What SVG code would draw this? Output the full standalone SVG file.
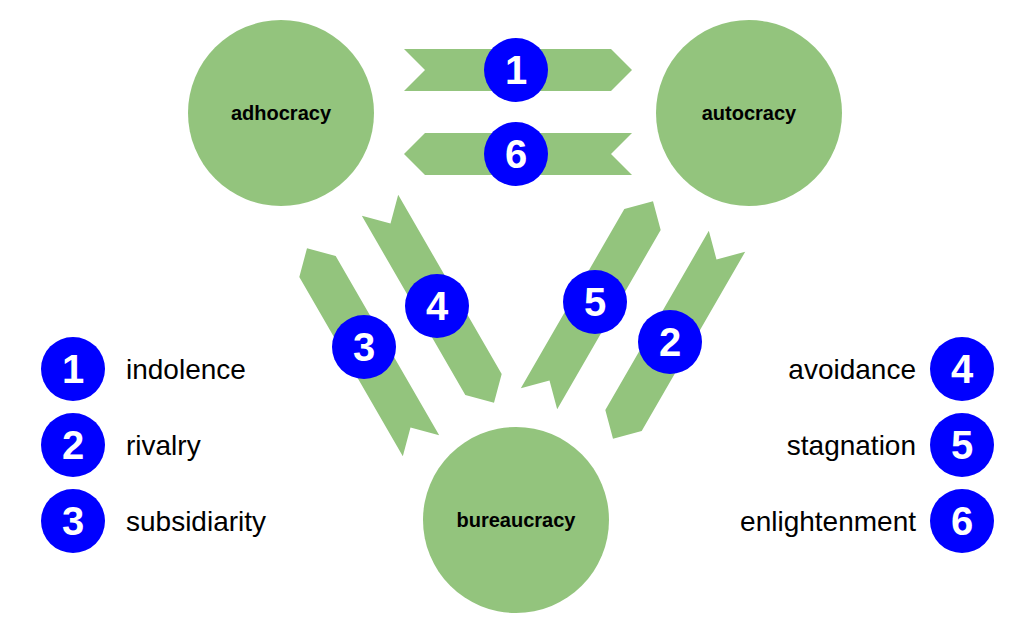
<svg xmlns="http://www.w3.org/2000/svg" xmlns:xlink="http://www.w3.org/1999/xlink" width="1036" height="631" viewBox="0 0 1036 631">
<style>
.node{fill:#93c47d}
.lbl{font-family:"Liberation Sans",Arial,sans-serif;font-weight:bold;font-size:20px;text-anchor:middle;fill:#000}
.arr{fill:#93c47d}
.bd{fill:#0000ff}
.bn{font-family:"Liberation Sans",Arial,sans-serif;font-weight:bold;font-size:40px;text-anchor:middle;fill:#fff}
.lg{font-family:"Liberation Sans",Arial,sans-serif;font-size:28px;fill:#000}
</style>
<defs>
<path id="chev" d="M-114,-21 L93,-21 L114,0 L93,21 L-114,21 L-93,0 Z"/>
<g id="badge"><circle r="32" class="bd"/></g>
</defs>
<g id="connectors">
<use xlink:href="#chev" class="arr" transform="translate(518,70)"/>
<use xlink:href="#chev" class="arr" transform="translate(518,154) rotate(180)"/>
<use xlink:href="#chev" class="arr" transform="translate(364,347) rotate(-120)"/>
<use xlink:href="#chev" class="arr" transform="translate(437,304) rotate(60)"/>
<use xlink:href="#chev" class="arr" transform="translate(596,300) rotate(-60)"/>
<use xlink:href="#chev" class="arr" transform="translate(670,340) rotate(120)"/>
<g transform="translate(516,70)"><use xlink:href="#badge"/><text class="bn" y="14">1</text></g>
<g transform="translate(516,154)"><use xlink:href="#badge"/><text class="bn" y="14">6</text></g>
<g transform="translate(364,347)"><use xlink:href="#badge"/><text class="bn" y="14">3</text></g>
<g transform="translate(437,306)"><use xlink:href="#badge"/><text class="bn" y="14">4</text></g>
<g transform="translate(595,302)"><use xlink:href="#badge"/><text class="bn" y="14">5</text></g>
<g transform="translate(670,342)"><use xlink:href="#badge"/><text class="bn" y="14">2</text></g>
</g>
<g id="adhocracy"><circle cx="281" cy="113" r="93" class="node"/><text class="lbl" x="281" y="120">adhocracy</text></g>
<g id="autocracy"><circle cx="749" cy="113" r="93" class="node"/><text class="lbl" x="749" y="120">autocracy</text></g>
<g id="bureaucracy"><circle cx="516" cy="520" r="93" class="node"/><text class="lbl" x="516" y="527">bureaucracy</text></g>
<g id="legend">
<g transform="translate(73,369)"><use xlink:href="#badge"/><text class="bn" y="14">1</text></g>
<g transform="translate(73,445)"><use xlink:href="#badge"/><text class="bn" y="14">2</text></g>
<g transform="translate(73,521)"><use xlink:href="#badge"/><text class="bn" y="14">3</text></g>
<text class="lg" x="126" y="379">indolence</text>
<text class="lg" x="126" y="455">rivalry</text>
<text class="lg" x="126" y="531">subsidiarity</text>
<g transform="translate(962,369)"><use xlink:href="#badge"/><text class="bn" y="14">4</text></g>
<g transform="translate(962,445)"><use xlink:href="#badge"/><text class="bn" y="14">5</text></g>
<g transform="translate(962,521)"><use xlink:href="#badge"/><text class="bn" y="14">6</text></g>
<text class="lg" x="916" y="379" text-anchor="end">avoidance</text>
<text class="lg" x="916" y="455" text-anchor="end">stagnation</text>
<text class="lg" x="916" y="531" text-anchor="end">enlightenment</text>
</g>
</svg>
